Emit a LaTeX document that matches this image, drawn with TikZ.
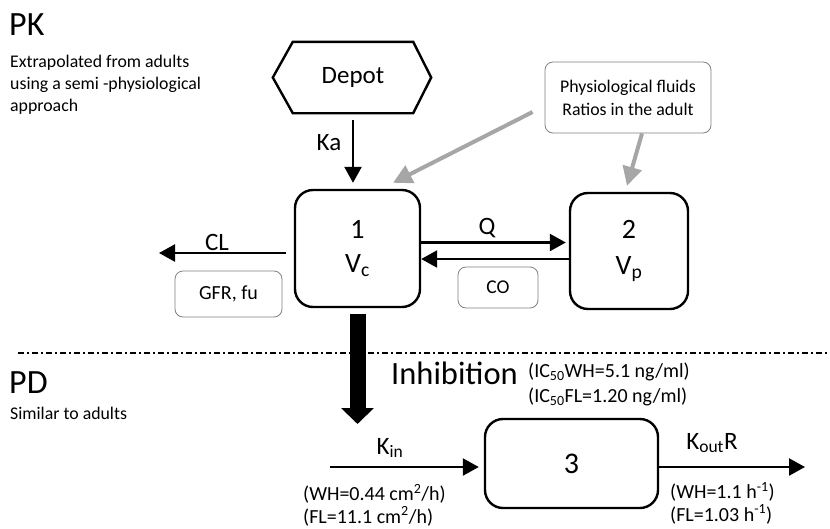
\documentclass[tikz,border=0pt]{standalone}
\usepackage{fontspec}
\setmainfont{Carlito}
\usetikzlibrary{arrows.meta}
\definecolor{garrow}{RGB}{166,166,166}
\definecolor{gline}{RGB}{128,128,128}
\newcommand{\fsz}[2]{\fontsize{#1}{#2}\selectfont}
\begin{document}
\begin{tikzpicture}[x=1pt,y=-1pt,
  box/.style={draw, line width=2.4pt, rounded corners=18pt, inner sep=0pt, align=center},
  gbox/.style={draw=gline, line width=0.8pt, rounded corners=8pt, inner sep=0pt, align=center},
  arr/.style={line width=2.4pt, -{Triangle[length=16pt,width=17pt]}},
  garr/.style={draw=garrow, line width=4pt, -{Triangle[length=19pt,width=19pt]}},
  lbl/.style={inner sep=0pt},
  sep/.style={line width=1.2pt, dash pattern=on 6pt off 3pt on 2pt off 3pt}]
\useasboundingbox (0,0) rectangle (830,528);

% headings
\node[lbl, anchor=base west, font=\fsz{34}{36}] (pk) at (9,35) {PK};
\node[lbl, anchor=north west, align=left, font=\fsz{17.8}{22}] (pktext) at (10,55)
  {Extrapolated from adults\\using a semi -physiological\\approach};
\node[lbl, anchor=base west, font=\fsz{34}{36}] (pd) at (9,393) {PD};
\node[lbl, anchor=base west, font=\fsz{17.8}{22}] (pdtext) at (10,419) {Similar to adults};

% separator
\coordinate (sepl) at (18,353);
\coordinate (sepr) at (830,353);
\draw[sep] (sepl) -- (sepr);

% depot
\node[lbl, minimum width=120pt, minimum height=71pt, font=\fsz{25}{28}] (depot) at (353,77.5) {Depot};
\draw[line width=2.4pt, line join=miter] ([xshift=-20pt]depot.west) -- (depot.north west) -- (depot.north east)
  -- ([xshift=18pt]depot.east) -- (depot.south east) -- (depot.south west) -- cycle;

% compartments
\node[box, minimum width=125pt, minimum height=117pt, font=\fsz{28}{34}] (b1) at (357.5,248.5) {1\\V\textsubscript{c}};
\node[box, minimum width=118pt, minimum height=116pt, font=\fsz{28}{36}] (b2) at (629,251) {2\\V\textsubscript{p}};
\node[box, minimum width=173pt, minimum height=89pt, font=\fsz{30}{32}] (b3) at (571.5,463.5) {3};

% grey info boxes
\node[gbox, minimum width=166pt, minimum height=71pt, font=\fsz{17.8}{23}] (phys) at (628,97.5)
  {Physiological fluids\\Ratios in the adult};
\node[gbox, minimum width=107pt, minimum height=46pt, font=\fsz{20}{24}] (gfr) at (228.5,294) {GFR, fu};
\node[gbox, minimum width=80pt, minimum height=41pt, font=\fsz{19.5}{23}] (co) at (498,287.5) {CO};

% Ka
\draw[arr, shorten <=7pt, shorten >=6pt] (depot.south) -- (depot.south |- b1.north);
\node[lbl, font=\fsz{25}{28}] (ka) at (329,143) {Ka};

% Q
\draw[arr, shorten >=3pt] ([yshift=6pt]b1.east) -- ([yshift=6pt]b1.east -| b2.west);
\draw[arr] ([yshift=-10.5pt]b1.east -| b2.west) -- ([yshift=-10.5pt]b1.east);
\node[lbl, font=\fsz{25}{28}] (q) at (487,228) {Q};

% CL
\coordinate (clend) at (159,253);
\draw[arr] ([xshift=-8pt]b1.west |- clend) -- (clend);
\node[lbl, font=\fsz{25}{28}] (cl) at (217,242) {CL};

% grey arrows
\draw[garr] ([xshift=-12pt,yshift=-14.5pt]phys.west) -- ([xshift=35.5pt,yshift=6pt]b1.north);
\draw[garr] ([xshift=14pt]phys.south) -- ([xshift=-2pt,yshift=6pt]b2.north);

% inhibition arrow
\coordinate (inhend) at (357.5,424);
\draw[line width=16pt, -{Triangle[length=16pt,width=32pt]}, shorten <=6pt] (b1.south) -- (inhend);
\node[lbl, anchor=west, font=\fsz{32.5}{36}] (inh) at (391,373) {Inhibition};
\node[lbl, anchor=north west, align=left, font=\fsz{20}{25}] (ic) at (528,363)
  {(IC\textsubscript{50}WH=5.1 ng/ml)\\(IC\textsubscript{50}FL=1.20 ng/ml)};

% Kin
\coordinate (kinstart) at (330,467);
\draw[arr, shorten >=5pt] (kinstart) -- (kinstart -| b3.west);
\node[lbl, font=\fsz{25}{28}] (kin) at (390,448) {K\textsubscript{in}};
\node[lbl, anchor=north west, align=left, font=\fsz{20}{22.5}] (kinv) at (303,484)
  {(WH=0.44 cm\textsuperscript{2}/h)\\(FL=11.1 cm\textsuperscript{2}/h)};

% Kout
\coordinate (koutend) at (805,467);
\draw[arr] (b3.east |- koutend) -- (koutend);
\node[lbl, font=\fsz{25}{28}] (kout) at (712,443) {K\textsubscript{out}R};
\node[lbl, anchor=north west, align=left, font=\fsz{20}{22.5}] (koutv) at (670,482)
  {(WH=1.1 h\textsuperscript{-1})\\(FL=1.03 h\textsuperscript{-1})};
\end{tikzpicture}
\end{document}
